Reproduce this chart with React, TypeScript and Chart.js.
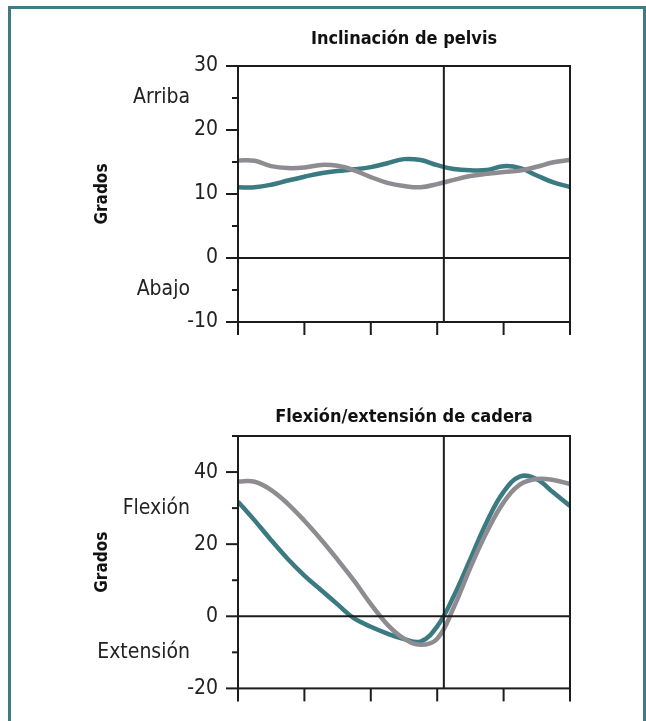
import React, { useEffect, useRef } from "react";
import { Chart, registerables } from "chart.js";

Chart.register(...registerables);

// Gait cycle percentage (x values)
const gaitPercent = [0, 5, 10, 15, 20, 25, 30, 35, 40, 45, 50, 55, 60, 65, 70, 75, 80, 85, 90, 95, 100];

// Pelvic tilt (degrees)
const pelvisGray = [15.25, 15.2, 14.35, 14.05, 14.15, 14.55, 14.4, 13.7, 12.65, 11.75, 11.25, 11.05, 11.55, 12.2, 12.8, 13.15, 13.45, 13.65, 14.25, 14.95, 15.3];
const pelvisTeal = [11.05, 11.05, 11.45, 12.1, 12.7, 13.25, 13.6, 13.85, 14.2, 14.8, 15.45, 15.3, 14.5, 13.9, 13.7, 13.75, 14.35, 14.05, 12.9, 11.8, 11.1];

// Hip flexion/extension (degrees)
const hipGray = [37.4, 37.3, 35.0, 31.2, 26.5, 21.3, 15.7, 9.8, 3.4, -2.3, -6.2, -7.9, -6.2, 2.5, 13.5, 23.5, 31.6, 36.6, 38.1, 37.8, 36.7];
const hipTeal = [31.8, 26.6, 21.1, 15.9, 11.3, 7.3, 3.3, -0.6, -2.9, -4.8, -6.3, -7.0, -2.8, 5.6, 15.9, 26.3, 34.5, 38.8, 38.0, 34.3, 30.6];

// Toe-off marker (% of gait cycle)
const toeOff = 62;

// Titles and side labels
const pelvisTitle = "Inclinación de pelvis";
const hipTitle = "Flexión/extensión de cadera";
const yTitle = "Grados";
const pelvisSideText = ["Arriba", "Abajo"];
const pelvisSideValues = [25, -5];
const hipSideText = ["Flexión", "Extensión"];
const hipSideValues = [30, -10];

const GRAY = "#8e8c91";
const TEAL = "#3c7a82";
const INK = "#1c1c1c";
const FONT = "'Liberation Sans Narrow', 'DejaVu Sans Condensed', 'Roboto', sans-serif";

type PanelCfg = {
  title: string;
  gray: number[];
  teal: number[];
  yMin: number;
  yMax: number;
  minorStep: number;
  majorStep: number;
  sideText: string[];
  sideValues: number[];
  titlePadTop: number;
  titlePadBottom: number;
  bottomPad: number;
};

function framePlugin(cfg: PanelCfg) {
  return {
    id: "frame",
    afterDatasetsDraw(chart: any) {
      const { ctx, chartArea: a, scales } = chart;
      const x = scales.x;
      const y = scales.y;
      ctx.save();
      ctx.strokeStyle = INK;
      ctx.lineWidth = 2;
      ctx.lineCap = "butt";
      const line = (x1: number, y1: number, x2: number, y2: number) => {
        ctx.beginPath();
        ctx.moveTo(x1, y1);
        ctx.lineTo(x2, y2);
        ctx.stroke();
      };
      ctx.strokeRect(a.left, a.top, a.right - a.left, a.bottom - a.top);
      const y0 = y.getPixelForValue(0);
      line(a.left, y0, a.right, y0);
      const xt = x.getPixelForValue(toeOff);
      line(xt, a.top, xt, a.bottom);
      y.ticks.forEach((t: any) => {
        const py = y.getPixelForValue(t.value);
        const len = Math.abs(t.value % cfg.majorStep) < 1e-6 ? 12 : 6;
        line(a.left - len, py, a.left, py);
      });
      x.ticks.forEach((t: any) => {
        const px = x.getPixelForValue(t.value);
        line(px, a.bottom, px, a.bottom + 13);
      });
      ctx.font = `21px ${FONT}`;
      ctx.fillStyle = "#222";
      ctx.textAlign = "right";
      ctx.textBaseline = "middle";
      cfg.sideText.forEach((txt, i) => {
        ctx.fillText(txt, a.left - 48, y.getPixelForValue(cfg.sideValues[i]));
      });
      ctx.restore();
    },
  };
}

function Panel({ cfg, height }: { cfg: PanelCfg; height: number }) {
  const ref = useRef<HTMLCanvasElement | null>(null);
  useEffect(() => {
    if (!ref.current) return;
    const chart = new Chart(ref.current, {
      type: "line",
      data: {
        labels: gaitPercent,
        datasets: [
          {
            data: gaitPercent.map((p, i) => ({ x: p, y: cfg.gray[i] })),
            borderColor: GRAY,
            borderWidth: 4.5,
            pointRadius: 0,
            fill: false,
            tension: 0.4,
          },
          {
            data: gaitPercent.map((p, i) => ({ x: p, y: cfg.teal[i] })),
            borderColor: TEAL,
            borderWidth: 4.5,
            pointRadius: 0,
            fill: false,
            tension: 0.4,
          },
        ],
      },
      options: {
        animation: false,
        responsive: false,
        devicePixelRatio: 1,
        layout: { padding: { left: 0, right: 76, top: 0, bottom: cfg.bottomPad } },
        plugins: {
          legend: { display: false },
          tooltip: { enabled: false },
          title: {
            display: true,
            text: cfg.title,
            fullSize: false,
            color: "#111",
            font: { family: FONT, size: 18, weight: "bold", lineHeight: 1.2 },
            padding: { top: cfg.titlePadTop, bottom: cfg.titlePadBottom },
          },
        },
        scales: {
          x: {
            type: "linear",
            min: 0,
            max: 100,
            ticks: { stepSize: 20, display: false },
            grid: { display: false },
            border: { display: false },
            afterFit: (s: any) => {
              s.height = 20;
            },
          },
          y: {
            type: "linear",
            min: cfg.yMin,
            max: cfg.yMax,
            ticks: {
              stepSize: cfg.minorStep,
              padding: 20,
              color: "#222",
              font: { family: FONT, size: 21 },
              callback: (v: any) => (Math.abs(Number(v) % cfg.majorStep) < 1e-6 ? String(v) : ""),
            },
            grid: { display: false, drawTicks: false },
            border: { display: false },
            title: {
              display: true,
              text: yTitle,
              color: "#111",
              font: { family: FONT, size: 17, weight: "bold", lineHeight: 1.2 },
              padding: { top: 92, bottom: 0 },
            },
            afterFit: (s: any) => {
              s.width = 238;
            },
          },
        },
      },
      plugins: [framePlugin(cfg)],
    } as any);
    return () => chart.destroy();
  }, []);
  return <canvas ref={ref} width={646} height={height} style={{ display: "block", width: 646, height }} />;
}

const pelvisCfg: PanelCfg = {
  title: pelvisTitle,
  gray: pelvisGray,
  teal: pelvisTeal,
  yMin: -10,
  yMax: 30,
  minorStep: 5,
  majorStep: 10,
  sideText: pelvisSideText,
  sideValues: pelvisSideValues,
  titlePadTop: 28.2,
  titlePadBottom: 16.2,
  bottomPad: 18,
};

const hipCfg: PanelCfg = {
  title: hipTitle,
  gray: hipGray,
  teal: hipTeal,
  yMin: -20,
  yMax: 50,
  minorStep: 10,
  majorStep: 20,
  sideText: hipSideText,
  sideValues: hipSideValues,
  titlePadTop: 46.2,
  titlePadBottom: 8.2,
  bottomPad: 6,
};

export default function App() {
  return (
    <div style={{ position: "absolute", left: 0, top: 0, width: 646, height: 721, overflow: "hidden", background: "#fff" }}>
      <div
        style={{
          position: "absolute",
          left: 8,
          top: 6,
          width: 632,
          height: 800,
          borderLeft: "3px solid #3e7c85",
          borderTop: "3px solid #3e7c85",
          borderRight: "3px solid #3e7c85",
        }}
      />
      <div style={{ position: "absolute", left: 0, top: 0 }}>
        <Panel cfg={pelvisCfg} height={360} />
        <Panel cfg={hipCfg} height={361} />
      </div>
    </div>
  );
}
